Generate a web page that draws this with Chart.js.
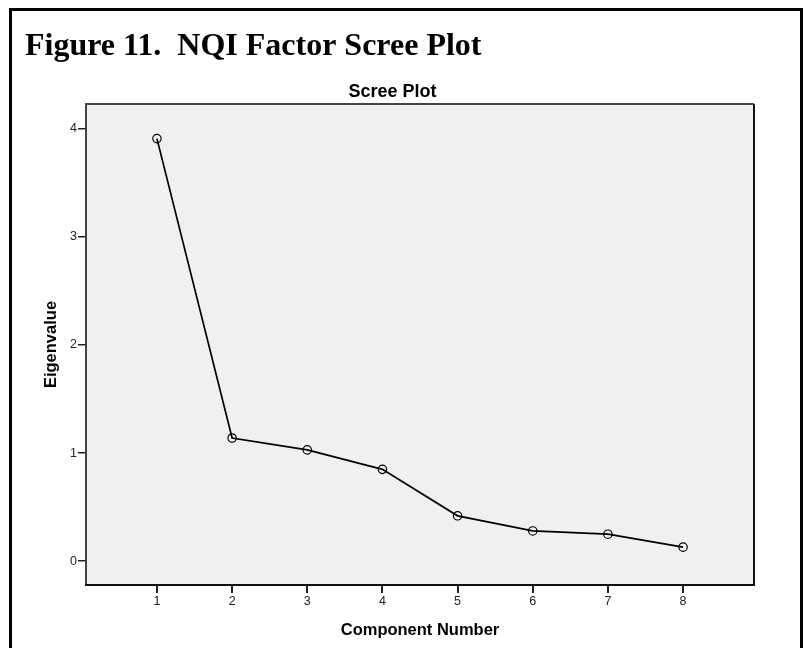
<!DOCTYPE html>
<html>
<head>
<meta charset="utf-8">
<title>NQI Factor Scree Plot</title>
<script src="https://cdn.jsdelivr.net/npm/chart.js@4.4.1/dist/chart.umd.min.js"></script>
<style>
    html, body { margin: 0; padding: 0; background: #fff; }
    #wrap { position: relative; width: 804px; height: 648px; }
</style>
</head>
<body>
<div id="wrap"><canvas id="screeChart" width="804" height="648"></canvas></div>
<script>
// data
const components = [1, 2, 3, 4, 5, 6, 7, 8];
const eigenvalues = [3.91, 1.14, 1.03, 0.85, 0.42, 0.28, 0.25, 0.13];
const xTicks = [1, 2, 3, 4, 5, 6, 7, 8];
const yTicks = [0, 1, 2, 3, 4];
const figureTitle = 'Figure 11.  NQI Factor Scree Plot';
const chartTitle = 'Scree Plot';
const xTitle = 'Component Number';
const yTitle = 'Eigenvalue';

Chart.defaults.font.family = '"Liberation Sans", Arial, sans-serif';
Chart.defaults.color = '#222';

// page frame, headings and the grey plot panel
const framePlugin = {
    id: 'framePlugin',
    beforeDraw(chart) {
        const { ctx, chartArea: a } = chart;
        ctx.save();
        ctx.fillStyle = '#fff';
        ctx.fillRect(0, 0, chart.width, chart.height);

        ctx.fillStyle = '#000';
        ctx.fillRect(9, 8, 794, 3);
        ctx.fillRect(9, 8, 3, chart.height - 8);
        ctx.fillRect(800, 8, 3, chart.height - 8);

        ctx.textBaseline = 'alphabetic';
        ctx.font = 'bold 32px "Liberation Serif", "Times New Roman", serif';
        ctx.fillText(figureTitle, 25, 55);

        ctx.textAlign = 'center';
        ctx.font = 'bold 18px "Liberation Sans", Arial, sans-serif';
        ctx.fillText(chartTitle, 392.5, 96.5);

        ctx.fillStyle = '#f0f0f0';
        ctx.fillRect(a.left, a.top, a.right - a.left, a.bottom - a.top);
        ctx.restore();
    },
    afterDraw(chart) {
        const { ctx, chartArea: a } = chart;
        ctx.save();
        ctx.lineWidth = 2;
        ctx.strokeStyle = '#444';
        ctx.beginPath();
        ctx.moveTo(a.left, a.bottom);
        ctx.lineTo(a.left, a.top);
        ctx.lineTo(a.right, a.top);
        ctx.stroke();
        ctx.strokeStyle = '#111';
        ctx.beginPath();
        ctx.moveTo(a.right, a.top);
        ctx.lineTo(a.right, a.bottom);
        ctx.lineTo(a.left - 1, a.bottom);
        ctx.stroke();
        ctx.restore();
    }
};

new Chart(document.getElementById('screeChart'), {
    type: 'line',
    data: {
        datasets: [{
            label: yTitle,
            data: components.map((c, i) => ({ x: c, y: eigenvalues[i] })),
            borderColor: '#000',
            borderWidth: 1.7,
            tension: 0,
            fill: false,
            pointRadius: 4.2,
            pointBorderWidth: 1.2,
            pointBorderColor: '#000',
            pointBackgroundColor: 'rgba(0,0,0,0)'
        }]
    },
    options: {
        responsive: false,
        animation: false,
        devicePixelRatio: 1,
        layout: { padding: { left: 0, top: 104, right: 50, bottom: 0 } },
        plugins: {
            legend: { display: false },
            tooltip: { enabled: false },
            title: { display: false }
        },
        scales: {
            x: {
                type: 'linear',
                min: 0.056,
                max: 8.944,
                afterBuildTicks: s => { s.ticks = xTicks.map(v => ({ value: v })); },
                afterFit: s => { s.height = 63; },
                ticks: { autoSkip: false, maxRotation: 0, padding: 1, color: '#222', font: { size: 12.5 } },
                grid: { drawOnChartArea: false, drawTicks: true, tickLength: 8, color: '#222', lineWidth: 2 },
                border: { display: false },
                title: {
                    display: true,
                    text: xTitle,
                    color: '#000',
                    font: { size: 16.5, weight: 'bold' },
                    padding: { top: 0, bottom: 7.8 }
                }
            },
            y: {
                type: 'linear',
                min: -0.22,
                max: 4.23,
                afterBuildTicks: s => { s.ticks = yTicks.map(v => ({ value: v })); },
                afterFit: s => { s.width = 86; },
                ticks: { padding: 1, color: '#222', font: { size: 12.5 } },
                grid: { drawOnChartArea: false, drawTicks: true, tickLength: 8, color: '#222', lineWidth: 1.5 },
                border: { display: false },
                title: {
                    display: true,
                    text: yTitle,
                    color: '#000',
                    font: { size: 16.5, weight: 'bold' },
                    padding: { top: 41.7, bottom: 0 }
                }
            }
        }
    },
    plugins: [framePlugin]
});
</script>
</body>
</html>
